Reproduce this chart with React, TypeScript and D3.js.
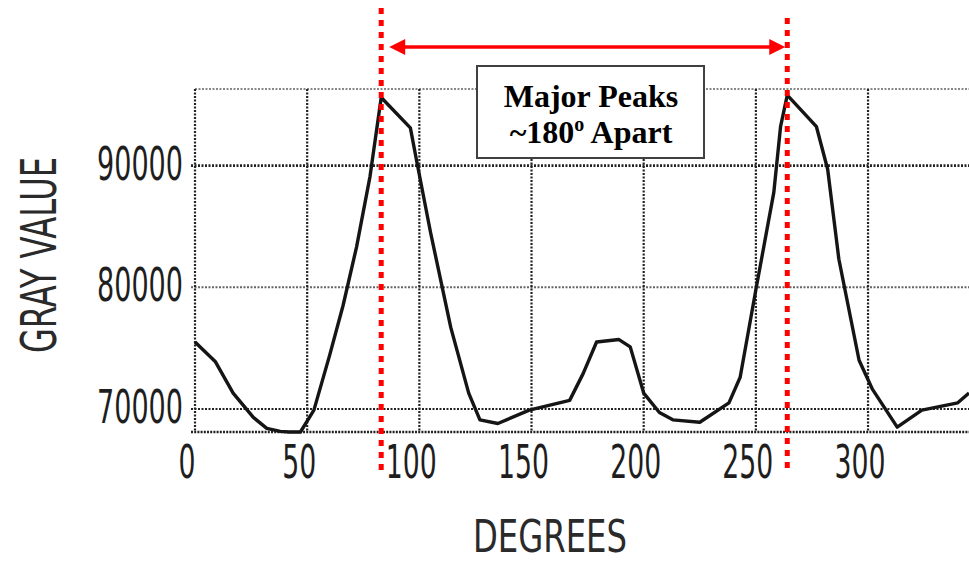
import React, { useEffect, useRef } from "react";
import * as d3 from "d3";

// profile
const degrees = [0, 9, 17, 26, 32, 38, 42, 47, 53, 60, 66, 72, 78, 83, 96, 99, 105, 114, 122, 127, 135, 149, 167, 173, 179, 189, 194, 200, 207, 213, 225, 238, 243, 250, 258, 261, 264, 277, 282, 287, 296, 302, 313, 324, 340, 345];
const grayValues = [75500, 73900, 71300, 69300, 68400, 68150, 68100, 68100, 69900, 74400, 78500, 83300, 89100, 95600, 93100, 90200, 84500, 76700, 71300, 69100, 68800, 69900, 70700, 72900, 75500, 75700, 75100, 71300, 69700, 69100, 68900, 70500, 72600, 79800, 87800, 93200, 95800, 93200, 89700, 82300, 74000, 71600, 68500, 69900, 70500, 71300];

const xTicks = [0, 50, 100, 150, 200, 250, 300];
const yTicks = [70000, 80000, 90000];
const peakDegrees = [83, 264];

const W = 969;
const H = 562;
const scanFont = "'DejaVu Sans Condensed', 'DejaVu Sans', sans-serif";

const App = () => {
  const svgRef = useRef(null);

  useEffect(() => {
    const svg = d3.select(svgRef.current);
    svg.selectAll("*").remove();

    const x = d3.scaleLinear().domain([0, 345]).range([195, 969]);
    const y = d3.scaleLinear().domain([68100, 96300]).range([432, 89]);

    const grid = svg.append("g");

    // frame top (light)
    grid.append("line")
      .attr("x1", x(0)).attr("x2", W)
      .attr("y1", y(96300)).attr("y2", y(96300))
      .attr("stroke", "#888").attr("stroke-width", 2)
      .attr("stroke-dasharray", "2 1.5");

    // horizontal grid
    grid.selectAll(".hgrid")
      .data(yTicks)
      .join("line")
      .attr("class", "hgrid")
      .attr("x1", x(0) - 4).attr("x2", W)
      .attr("y1", (d) => y(d)).attr("y2", (d) => y(d))
      .attr("stroke", (d) => (d === 80000 ? "#666" : "#222"))
      .attr("stroke-width", (d) => (d === 90000 ? 2.6 : 2))
      .attr("stroke-dasharray", "2 1.5");

    // bottom frame
    grid.append("line")
      .attr("x1", x(0) - 4).attr("x2", W)
      .attr("y1", y(68100)).attr("y2", y(68100))
      .attr("stroke", "#222").attr("stroke-width", 2.6)
      .attr("stroke-dasharray", "2 1.2");

    // vertical grid
    grid.selectAll(".vgrid")
      .data(xTicks)
      .join("line")
      .attr("class", "vgrid")
      .attr("x1", (d) => x(d)).attr("x2", (d) => x(d))
      .attr("y1", y(96300)).attr("y2", y(68100))
      .attr("stroke", "#222").attr("stroke-width", 2.2)
      .attr("stroke-dasharray", "2 1.5");

    // curve
    const line = d3.line()
      .x((d) => x(d[0]))
      .y((d) => y(d[1]));
    svg.append("path")
      .datum(degrees.map((d, i) => [d, grayValues[i]]))
      .attr("d", line)
      .attr("fill", "none")
      .attr("stroke", "#151515")
      .attr("stroke-width", 3.4)
      .attr("stroke-linejoin", "round");

    // tick labels
    svg.selectAll(".xlab")
      .data(xTicks)
      .join("text")
      .attr("class", "xlab")
      .attr("x", (d) => x(d) - 8)
      .attr("y", 478)
      .attr("text-anchor", "middle")
      .attr("textLength", (d) => String(d).length * 17)
      .attr("lengthAdjust", "spacingAndGlyphs")
      .style("font", `46px ${scanFont}`)
      .attr("fill", "#1e1e1e")
      .text((d) => d);

    svg.selectAll(".ylab")
      .data(yTicks)
      .join("text")
      .attr("class", "ylab")
      .attr("x", 97)
      .attr("y", (d) => y(d) + 14)
      .attr("textLength", 86)
      .attr("lengthAdjust", "spacingAndGlyphs")
      .style("font", `46px ${scanFont}`)
      .attr("fill", "#1e1e1e")
      .text((d) => d);

    // axis titles
    svg.append("text")
      .attr("transform", "translate(56,255) rotate(-90)")
      .attr("text-anchor", "middle")
      .attr("textLength", 196)
      .attr("lengthAdjust", "spacingAndGlyphs")
      .style("font", `50px ${scanFont}`)
      .attr("fill", "#2a2a2a")
      .text("GRAY VALUE");

    svg.append("text")
      .attr("x", 550)
      .attr("y", 552)
      .attr("text-anchor", "middle")
      .attr("textLength", 154)
      .attr("lengthAdjust", "spacingAndGlyphs")
      .style("font", `44px ${scanFont}`)
      .attr("fill", "#2a2a2a")
      .text("DEGREES");

    // red peak markers
    svg.selectAll(".peak")
      .data(peakDegrees)
      .join("line")
      .attr("class", "peak")
      .attr("x1", (d) => x(d)).attr("x2", (d) => x(d))
      .attr("y1", (d, i) => (i === 0 ? 8 : 18))
      .attr("y2", 470)
      .attr("stroke", "#ff0000")
      .attr("stroke-width", 5)
      .attr("stroke-dasharray", "6 6");

    const ax1 = x(peakDegrees[0]) + 8;
    const ax2 = x(peakDegrees[1]) - 2;
    const ay = 47;
    svg.append("line")
      .attr("x1", ax1 + 12).attr("x2", ax2 - 12)
      .attr("y1", ay).attr("y2", ay)
      .attr("stroke", "#ff0000").attr("stroke-width", 3.5);
    svg.append("path")
      .attr("d", `M${ax1},${ay} L${ax1 + 16},${ay - 8} L${ax1 + 16},${ay + 8} Z`)
      .attr("fill", "#ff0000");
    svg.append("path")
      .attr("d", `M${ax2},${ay} L${ax2 - 16},${ay - 8} L${ax2 - 16},${ay + 8} Z`)
      .attr("fill", "#ff0000");

    // annotation box
    svg.append("rect")
      .attr("x", 477).attr("y", 66)
      .attr("width", 227).attr("height", 92)
      .attr("fill", "white")
      .attr("stroke", "#404040").attr("stroke-width", 2);

    const boxFont = "bold 32px 'Liberation Serif', 'Times New Roman', serif";
    svg.append("text")
      .attr("x", 591).attr("y", 107)
      .attr("text-anchor", "middle")
      .style("font", boxFont)
      .text("Major Peaks");

    const l2 = svg.append("text")
      .attr("x", 591).attr("y", 143)
      .attr("text-anchor", "middle")
      .style("font", boxFont);
    l2.append("tspan").text("~180");
    l2.append("tspan").attr("dy", -12).style("font-size", "20px").text("o");
    l2.append("tspan").attr("dy", 12).text(" Apart");
  }, []);

  return (
    <svg
      ref={svgRef}
      width={W}
      height={H}
      style={{ position: "absolute", left: 0, top: 0, background: "white" }}
    />
  );
};

export default App;
